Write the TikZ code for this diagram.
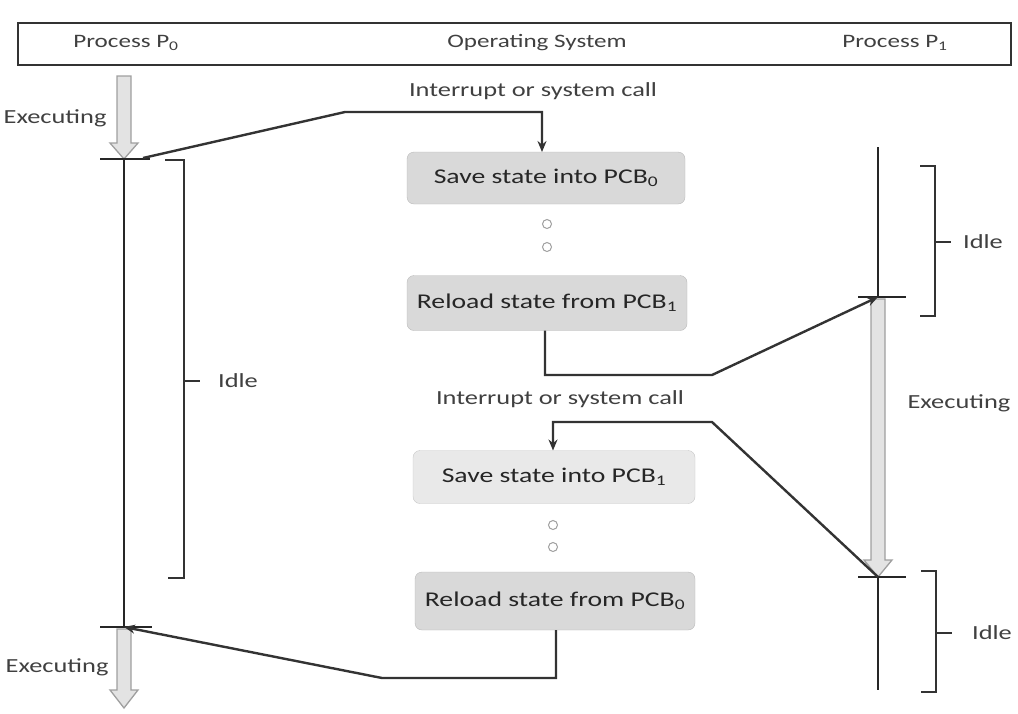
\documentclass[tikz,border=0pt]{standalone}
\usepackage{fontspec}
\setmainfont{Carlito}[FakeStretch=1.32]
\usetikzlibrary{arrows.meta}
\tikzset{
  pbox/.style={draw=gray!55, fill=gray!30, rounded corners=7pt, minimum width=280pt, minimum height=54pt, font=\fontsize{21}{24}\selectfont, text=black!85},
  lbl/.style={font=\fontsize{20}{23}\selectfont, text=black!75},
  hlbl/.style={font=\fontsize{19}{22}\selectfont, text=black!75},
  conn/.style={draw=black!80, line width=2.4pt},
  tl/.style={draw=black!85, line width=2pt},
  brk/.style={draw=black!80, line width=2.2pt},
  hollow/.style={draw=gray!75, fill=gray!22, line width=1.3pt},
  dotc/.style={draw=gray!75, line width=1pt, circle, inner sep=0pt, minimum size=9pt},
}
\begin{document}
\begin{tikzpicture}[x=1pt,y=-1pt]
\useasboundingbox (0,0) rectangle (1018,713);
% header
\node[draw=black!80, line width=1.8pt, minimum width=993pt, minimum height=42pt, anchor=north west] (hdr) at (17,22) {};
\node[hlbl] (hp0) at (126,43) {Process P\textsubscript{0}};
\node[hlbl] (hos) at (537,43) {Operating System};
\node[hlbl] (hp1) at (895,43) {Process P\textsubscript{1}};

% boxes
\node[pbox, minimum width=278pt, minimum height=52pt] (s0) at (546,178) {Save state into PCB\textsubscript{0}};
\node[pbox, minimum width=280pt, minimum height=55pt] (r1) at (547,303) {Reload state from PCB\textsubscript{1}};
\node[pbox, fill=gray!17, draw=gray!45, minimum width=282pt, minimum height=53pt] (s1) at (554,477) {Save state into PCB\textsubscript{1}};
\node[pbox, minimum width=280pt, minimum height=58pt] (r0) at (555,601) {Reload state from PCB\textsubscript{0}};

% dots
\node[dotc] (d1) at (547,224) {};
\node[dotc] (d2) at (547,247) {};
\node[dotc] (d3) at (553,525) {};
\node[dotc] (d4) at (553,547) {};

% P0 timeline
\coordinate (p0a) at (124,159);
\coordinate (p0b) at (124,627);
\draw[hollow] (117,76) -- (131,76) -- (131,143) -- (138,143) -- (124,159) -- (110,143) -- (117,143) -- cycle;
\draw[hollow] (117,629) -- (131,629) -- (131,690) -- (138,690) -- (124,708) -- (110,690) -- (117,690) -- cycle;
\draw[tl] (p0a) -- (p0b);
\draw[tl] (100,159) -- (150,159);
\draw[tl] (100,627) -- (152,627);
\node[lbl, anchor=east] (ex0) at (110,118) {Executing};
\node[lbl, anchor=east] (ex0b) at (112,667) {Executing};

% left bracket
\draw[brk] (165,160) -- (184,160) -- (184,578) -- (168,578);
\draw[brk] (184,381) -- (200,381);
\node[lbl] (idle0) at (238,381) {Idle};

% P1 timeline
\coordinate (p1a) at (878,297);
\coordinate (p1b) at (878,577);
\draw[tl] (878,147) -- (p1a);
\draw[hollow] (871,299) -- (885,299) -- (885,560) -- (892,560) -- (878,577) -- (864,560) -- (871,560) -- cycle;
\draw[tl] (p1b) -- (878,690);
\draw[tl] (858,297) -- (906,297);
\draw[tl] (858,577) -- (906,577);
\node[lbl] (ex1) at (959,403) {Executing};

% right brackets
\draw[brk] (920,166) -- (935,166) -- (935,316) -- (920,316);
\draw[brk] (935,242) -- (951,242);
\node[lbl] (idle1) at (983,242) {Idle};
\draw[brk] (921,571) -- (936,571) -- (936,692) -- (921,692);
\draw[brk] (936,633) -- (952,633);
\node[lbl] (idle2) at (992,633) {Idle};

% interrupt labels
\node[lbl] (int1) at (533,91) {Interrupt or system call};
\node[lbl] (int2) at (560,399) {Interrupt or system call};

% connectors
\draw[conn, -{Stealth[length=11pt,width=9pt]}] (143,158) -- (345,112) -- (542,112) -- (542,152);
\draw[conn, -{Stealth[length=11pt,width=9pt]}] (545,330.5) -- (545,375) -- (712,375) -- (p1a);
\draw[conn, -{Stealth[length=11pt,width=9pt]}] (p1b) -- (712,422) -- (553,422) -- (553,450.5);
\draw[conn, -{Stealth[length=11pt,width=9pt]}] (556,630) -- (556,678) -- (382,678) -- (p0b);
\end{tikzpicture}
\end{document}
